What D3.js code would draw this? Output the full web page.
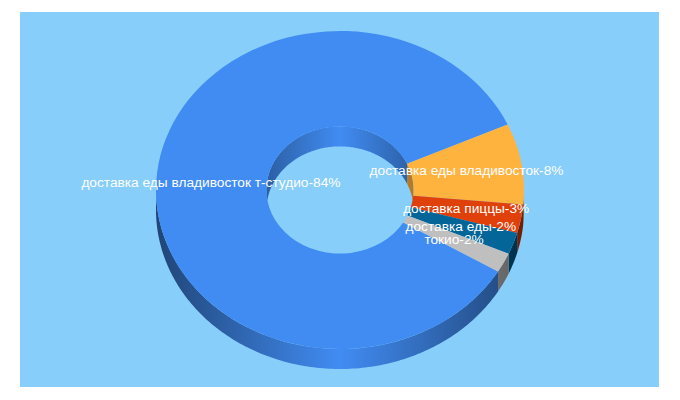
<!DOCTYPE html>
<html>
<head>
<meta charset="utf-8">
<script src="https://cdn.jsdelivr.net/npm/d3@7"></script>
<style>
    body { margin: 0; background: #fff; }
    svg { display: block; }
    text { font-family: "Liberation Sans", sans-serif; font-size: 13.7px; fill: #fff; }
</style>
</head>
<body>
<svg id="chart" width="680" height="400"></svg>
<script>
// Data
const labels = [
    'доставка еды владивосток т-студио-84%',
    'доставка еды владивосток-8%',
    'доставка пиццы-3%',
    'доставка еды-2%',
    'токио-2%'
];
const shares = [84.6, 8.2, 2.9, 2.2, 2.0];
const colors = ['#418cf3', '#ffb33f', '#e0400a', '#036598', '#bfbfbf'];

const BG = '#87cefb';
const cx = 340, cy = 190;
const outerR = 184, innerR = 73.6;
const squash = 159 / 184;   // vertical flattening of the ring
const depth = 20;

const svg = d3.select('#chart');
const defs = svg.append('defs');

svg.append('rect').attr('x', 20).attr('y', 12).attr('width', 639).attr('height', 375).attr('fill', BG);

const startAngle = 120.8 * Math.PI / 180;
const pie = d3.pie().sort(null).startAngle(startAngle).endAngle(startAngle + 2 * Math.PI);
const slices = pie(shares);

const arc = d3.arc().innerRadius(innerR).outerRadius(outerR);

// horizontal shading for the walls, dark at the sides, bright in the middle
function wallGradient(id, color, r, edge) {
    const xScale = d3.scaleLinear().domain([0, 1]).range([cx - r, cx + r]);
    const g = defs.append('linearGradient').attr('id', id)
        .attr('gradientUnits', 'userSpaceOnUse')
        .attr('x1', xScale(0)).attr('x2', xScale(1)).attr('y1', 0).attr('y2', 0);
    const dark = d3.rgb(color).darker(edge);
    g.append('stop').attr('offset', 0).attr('stop-color', dark);
    g.append('stop').attr('offset', 0.5).attr('stop-color', color);
    g.append('stop').attr('offset', 1).attr('stop-color', dark);
}
slices.forEach((d, i) => {
    wallGradient(`outer-${i}`, colors[i], outerR, 2.0);
    wallGradient(`inner-${i}`, colors[i], innerR, 1.1);
});

// wall of one slice between angles a0 and a1 on a circle of radius r
function wallPath(r, a0, a1) {
    const n = Math.max(2, Math.ceil((a1 - a0) * 60));
    const angle = d3.scaleLinear().domain([0, n]).range([a0, a1]);
    return d3.area()
        .x(t => cx + r * Math.sin(angle(t)))
        .y0(t => cy - r * squash * Math.cos(angle(t)))
        .y1(t => cy - r * squash * Math.cos(angle(t)) + depth)(d3.range(n + 1));
}

// visible ranges: front half of the outer wall, back half of the hole wall
const TAU = 2 * Math.PI;
function visibleParts(d, from, to) {
    const parts = [];
    [-TAU, 0, TAU].forEach(shift => {
        const a0 = Math.max(d.startAngle + shift, from);
        const a1 = Math.min(d.endAngle + shift, to);
        if (a1 > a0) parts.push([a0, a1]);
    });
    return parts;
}

const walls = svg.append('g');
slices.forEach((d, i) => {
    visibleParts(d, -Math.PI / 2, Math.PI / 2).forEach(([a0, a1]) => {
        walls.append('path').attr('d', wallPath(innerR, a0, a1)).attr('fill', `url(#inner-${i})`);
    });
    visibleParts(d, Math.PI / 2, 3 * Math.PI / 2).forEach(([a0, a1]) => {
        walls.append('path').attr('d', wallPath(outerR, a0, a1)).attr('fill', `url(#outer-${i})`);
    });
});

// top face
const face = svg.append('g').attr('transform', `translate(${cx},${cy}) scale(1,${squash})`);
face.selectAll('path').data(slices).join('path')
    .attr('d', arc)
    .attr('fill', (d, i) => colors[i]);

// labels sit on the centroid of each slice
svg.append('g').selectAll('text').data(slices).join('text')
    .attr('x', d => cx + arc.centroid(d)[0] - 0.5)
    .attr('y', d => cy + arc.centroid(d)[1] * squash)
    .attr('dy', '0.24em')
    .attr('text-anchor', 'middle')
    .text((d, i) => labels[i]);
</script>
</body>
</html>
